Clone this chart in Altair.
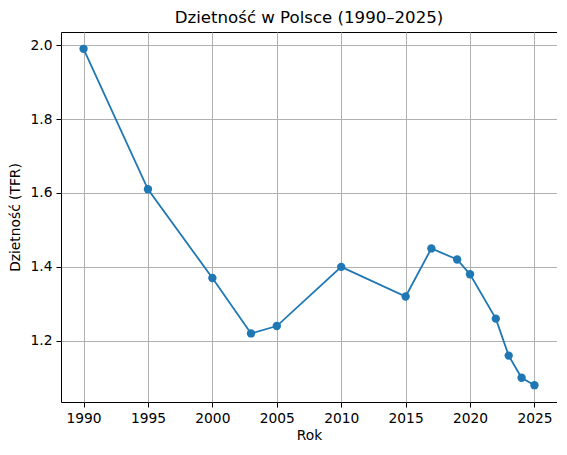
import pandas as pd
import altair as alt

# Total fertility rate in Poland
years = [1990, 1995, 2000, 2003, 2005, 2010, 2015, 2017, 2019, 2020, 2022, 2023, 2024, 2025]
tfr = [1.99, 1.61, 1.37, 1.22, 1.24, 1.40, 1.32, 1.45, 1.42, 1.38, 1.26, 1.16, 1.10, 1.08]

x_ticks = [1990, 1995, 2000, 2005, 2010, 2015, 2020, 2025]
y_ticks = [1.2, 1.4, 1.6, 1.8, 2.0]

df = pd.DataFrame({"rok": years, "tfr": tfr})

FONT = "DejaVu Sans"
BLUE = "#1f77b4"

x_enc = alt.X(
    "rok:Q",
    title="Rok",
    scale=alt.Scale(domain=[1988.25, 2026.75], nice=False, zero=False),
    axis=alt.Axis(values=x_ticks, format="d", titlePadding=4),
)
y_enc = alt.Y(
    "tfr:Q",
    title="Dzietność (TFR)",
    scale=alt.Scale(domain=[1.0345, 2.0355], nice=False, zero=False),
    axis=alt.Axis(values=y_ticks, format=".1f", titlePadding=8),
)

base = alt.Chart(df).encode(x=x_enc, y=y_enc)
line = base.mark_line(color=BLUE, strokeWidth=1.8)
points = base.mark_circle(color=BLUE, size=70, opacity=1)

chart = (
    (line + points)
    .properties(
        width=496,
        height=370,
        title=alt.TitleParams(
            "Dzietność w Polsce (1990–2025)",
            font=FONT,
            fontSize=16.6,
            fontWeight="normal",
            color="black",
            offset=5,
        ),
        autosize=alt.AutoSizeParams(type="none"),
        padding={"left": 53, "top": 24, "right": 0, "bottom": 40},
    )
    .configure_view(stroke="black", strokeWidth=1)
    .configure_axis(
        domain=False,
        grid=True,
        gridColor="#b0b0b0",
        gridWidth=1,
        tickColor="black",
        tickSize=5,
        labelFont=FONT,
        labelFontSize=13.8,
        labelColor="black",
        labelPadding=4,
        titleFont=FONT,
        titleFontSize=13.8,
        titleFontWeight="normal",
        titleColor="black",
    )
)

chart.save("out.html", embed_options={"renderer": "svg", "actions": False})
